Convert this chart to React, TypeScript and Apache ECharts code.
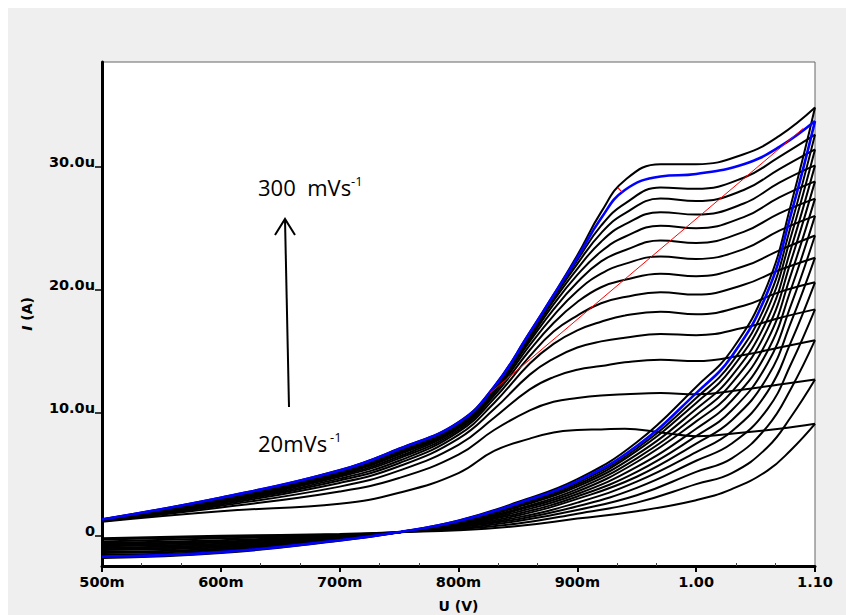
import { useEffect, useRef } from "react";
import * as echarts from "echarts";

// Scan rates (mV/s) of the recorded voltammograms
const scanRates = [20, 40, 60, 80, 100, 120, 140, 160, 180, 200, 220, 240, 260, 280, 300];
// Rate drawn in blue
const highlightedRate = 280;

// Potentials (V) for the anodic (forward) sweep
const forwardPotential = [0.5, 0.6, 0.7, 0.75, 0.8, 0.83, 0.86, 0.88, 0.9, 0.92, 0.94, 0.97, 1.0, 1.04, 1.07, 1.1];
// Currents (µA) on the forward sweep, one row per scan rate
const forwardCurrent = [
  [1.15, 2.0, 2.6, 3.5, 5.1, 6.9, 7.9, 8.4, 8.6, 8.65, 8.7, 8.4, 8.1, 8.4, 8.7, 9.1],
  [1.18, 2.3, 3.6, 4.7, 6.6, 8.6, 10.2, 10.9, 11.2, 11.4, 11.5, 11.6, 11.5, 11.9, 12.3, 12.7],
  [1.2, 2.45, 4.0, 5.3, 7.4, 9.6, 11.9, 12.9, 13.5, 13.8, 14.1, 14.3, 14.2, 14.7, 15.3, 15.9],
  [1.22, 2.55, 4.3, 5.65, 7.9, 10.3, 13.1, 14.4, 15.3, 15.8, 16.1, 16.4, 16.3, 16.9, 17.7, 18.4],
  [1.24, 2.65, 4.5, 5.9, 8.2, 10.8, 14.0, 15.6, 16.7, 17.4, 17.9, 18.2, 18.0, 18.7, 19.8, 20.6],
  [1.25, 2.72, 4.65, 6.1, 8.45, 11.15, 14.6, 16.6, 17.9, 18.9, 19.4, 19.8, 19.6, 20.4, 21.6, 22.6],
  [1.26, 2.78, 4.8, 6.3, 8.6, 11.4, 15.1, 17.3, 19.0, 20.2, 20.8, 21.3, 21.1, 21.9, 23.2, 24.4],
  [1.27, 2.84, 4.9, 6.45, 8.75, 11.6, 15.5, 17.9, 19.9, 21.3, 22.1, 22.7, 22.5, 23.3, 24.8, 26.0],
  [1.28, 2.9, 5.0, 6.6, 8.85, 11.75, 15.8, 18.4, 20.6, 22.3, 23.2, 24.0, 23.8, 24.7, 26.2, 27.4],
  [1.29, 2.95, 5.05, 6.7, 8.95, 11.85, 16.0, 18.8, 21.2, 23.1, 24.3, 25.2, 25.0, 25.9, 27.5, 28.8],
  [1.3, 3.0, 5.1, 6.8, 9.05, 11.95, 16.15, 19.1, 21.7, 23.9, 25.3, 26.3, 26.1, 27.0, 28.7, 30.1],
  [1.31, 3.03, 5.15, 6.9, 9.1, 12.0, 16.3, 19.3, 22.1, 24.6, 26.2, 27.4, 27.2, 28.1, 29.8, 31.4],
  [1.32, 3.06, 5.2, 7.0, 9.15, 12.05, 16.4, 19.45, 22.4, 25.2, 27.0, 28.3, 28.2, 29.1, 30.8, 32.6],
  [1.33, 3.1, 5.3, 7.05, 9.2, 12.1, 16.5, 19.55, 22.6, 25.8, 28.1, 29.2, 29.4, 30.2, 31.6, 33.7],
  [1.35, 3.12, 5.35, 7.1, 9.25, 12.15, 16.55, 19.6, 22.8, 26.3, 28.9, 30.2, 30.2, 31.0, 32.5, 34.8],
];

// Potentials (V) for the reverse sweep
const reversePotential = [1.1, 1.08, 1.06, 1.03, 1.0, 0.95, 0.9, 0.85, 0.8, 0.75, 0.7, 0.6, 0.5];
// Currents (µA) on the reverse sweep, one row per scan rate
const reverseCurrent = [
  [9.1, 7.0, 5.3, 3.8, 2.9, 2.0, 1.4, 0.8, 0.45, 0.3, 0.15, 0.0, -0.2],
  [12.7, 9.7, 7.2, 5.1, 4.2, 2.7, 1.8, 1.0, 0.55, 0.3, 0.1, -0.1, -0.3],
  [15.9, 12.0, 8.9, 6.3, 5.2, 3.3, 2.1, 1.2, 0.6, 0.3, 0.05, -0.2, -0.45],
  [18.4, 14.0, 10.3, 7.5, 6.1, 3.9, 2.4, 1.35, 0.7, 0.3, 0.0, -0.35, -0.55],
  [20.6, 15.8, 11.7, 8.5, 6.8, 4.4, 2.7, 1.5, 0.75, 0.3, -0.05, -0.45, -0.65],
  [22.6, 17.4, 12.9, 9.4, 7.5, 4.8, 3.0, 1.65, 0.8, 0.3, -0.1, -0.55, -0.75],
  [24.4, 18.8, 14.0, 10.2, 8.1, 5.2, 3.2, 1.8, 0.85, 0.3, -0.15, -0.65, -0.85],
  [26.0, 20.1, 15.0, 11.0, 8.7, 5.6, 3.4, 1.95, 0.9, 0.3, -0.2, -0.75, -0.95],
  [27.4, 21.3, 15.9, 11.7, 9.3, 6.0, 3.6, 2.1, 0.95, 0.3, -0.22, -0.85, -1.05],
  [28.8, 22.4, 16.8, 12.4, 9.8, 6.3, 3.8, 2.2, 1.0, 0.3, -0.25, -0.95, -1.15],
  [30.1, 23.4, 17.6, 13.0, 10.3, 6.6, 4.0, 2.35, 1.05, 0.3, -0.28, -1.05, -1.3],
  [31.4, 24.4, 18.4, 13.6, 10.8, 6.9, 4.15, 2.45, 1.1, 0.3, -0.3, -1.15, -1.4],
  [32.6, 25.3, 19.1, 14.1, 11.2, 7.1, 4.3, 2.55, 1.15, 0.3, -0.33, -1.25, -1.55],
  [33.7, 26.2, 19.8, 14.6, 11.6, 7.3, 4.45, 2.65, 1.2, 0.3, -0.36, -1.32, -1.7],
  [34.8, 27.0, 20.4, 15.1, 12.1, 7.6, 4.6, 2.75, 1.25, 0.3, -0.4, -1.4, -1.8],
];

// Straight red line through the peak region (V, µA)
const fitLinePotential = [0.8266, 1.09];
const fitLineCurrent = [11.6, 33.1];
// Marker "1" on the top voltammogram (V, µA)
const markerLabel = "1";
const markerPotential = [0.9341, 0.9378];
const markerCurrent = [28.3, 27.9];
const markerLabelPoint = [0.9348, 28.8];

// Current axis ticks (µA) and potential axis range (V)
const currentTicks = [0, 10, 20, 30];
const currentRange = [-2.45, 38.5];
const potentialRange = [0.5, 1.1];
const potentialStep = 0.1;

const labelFont = "DejaVu Sans";
const noteFont = "Open Sans";

export default function App() {
  const ref = useRef<HTMLDivElement>(null);

  useEffect(() => {
    // keep the page exactly as tall as the window
    document.body.style.margin = "8px 0 0 8px";
    document.body.style.overflow = "hidden";
    const chart = echarts.init(ref.current!, null, { renderer: "svg" });

    const series: any[] = [];
    const blueSeries: any[] = [];
    scanRates.forEach((rate, i) => {
      const isBlue = rate === highlightedRate;
      const lineStyle = { color: isBlue ? "#0000ff" : "#000000", width: isBlue ? 2.6 : 2 };
      const common = {
        type: "line",
        smooth: 0.45,
        showSymbol: false,
        symbol: "none",
        silent: true,
        lineStyle,
        z: isBlue ? 3 : 2,
      };
      const forward = {
        ...common,
        name: `${rate} mV/s forward`,
        data: forwardPotential.map((u, k) => [u, forwardCurrent[i][k]]),
      };
      const reverse = {
        ...common,
        name: `${rate} mV/s reverse`,
        data: reversePotential.map((u, k) => [u, reverseCurrent[i][k]]),
      };
      if (isBlue) blueSeries.push(forward, reverse);
      else series.push(forward, reverse);
    });
    series.push(...blueSeries);

    series.push({
      type: "line",
      name: "fit",
      data: fitLinePotential.map((u, k) => [u, fitLineCurrent[k]]),
      showSymbol: false,
      symbol: "none",
      silent: true,
      lineStyle: { color: "#ff0000", width: 1 },
      z: 4,
    });
    series.push({
      type: "line",
      name: "marker",
      data: markerPotential.map((u, k) => [u, markerCurrent[k]]),
      showSymbol: false,
      symbol: "none",
      silent: true,
      lineStyle: { color: "#ff0000", width: 1.2 },
      z: 4,
    });
    series.push({
      type: "scatter",
      name: "marker label",
      data: [markerLabelPoint],
      symbolSize: 1,
      itemStyle: { opacity: 0 },
      silent: true,
      label: {
        show: true,
        position: "inside",
        formatter: markerLabel,
        color: "#000",
        fontFamily: noteFont,
        fontSize: 15,
      },
      z: 5,
    });

    const potentialLabel = (v: number) =>
      v < 0.95 ? `${Math.round(v * 1000)}m` : v.toFixed(2);
    const currentLabel = (v: number) => (v === 0 ? "0" : `${v.toFixed(1)}u`);

    const option: any = {
      animation: false,
      backgroundColor: "#efefef",
      grid: {
        left: 94,
        top: 54,
        right: 31,
        bottom: 49,
        outerBoundsMode: "none",
        containLabel: false,
        show: true,
        backgroundColor: "#ffffff",
        borderColor: "#666666",
        borderWidth: 1,
      },
      xAxis: {
        type: "value",
        min: potentialRange[0],
        max: potentialRange[1],
        interval: potentialStep,
        name: "U (V)",
        nameLocation: "middle",
        nameGap: 33,
        nameTextStyle: { color: "#000", fontFamily: labelFont, fontWeight: "bold", fontSize: 14 },
        axisLine: { show: true, onZero: false, lineStyle: { color: "#000", width: 3 } },
        axisTick: { show: true, length: 6, lineStyle: { color: "#000", width: 2 } },
        minorTick: { show: true, splitNumber: 3, length: -3, lineStyle: { color: "#444", width: 1 } },
        splitLine: { show: false },
        axisLabel: {
          formatter: potentialLabel,
          color: "#000",
          fontFamily: labelFont,
          fontWeight: "bold",
          fontSize: 14.5,
          margin: 8,
        },
      },
      yAxis: {
        type: "value",
        min: currentRange[0],
        max: currentRange[1],
        name: "{i|I} (A)",
        nameLocation: "middle",
        nameRotate: 90,
        nameGap: 68,
        nameTextStyle: {
          color: "#000",
          fontFamily: labelFont,
          fontWeight: "bold",
          fontSize: 14,
          rich: {
            i: { fontStyle: "italic", fontWeight: "bold", fontFamily: labelFont, fontSize: 14, color: "#000" },
          },
        },
        axisLine: { show: true, onZero: false, lineStyle: { color: "#000", width: 3 } },
        axisTick: { show: true, length: 7, customValues: currentTicks, lineStyle: { color: "#000", width: 1.5 } },
        splitLine: { show: false },
        axisLabel: {
          customValues: currentTicks,
          formatter: currentLabel,
          color: "#000",
          fontFamily: labelFont,
          fontWeight: "bold",
          fontSize: 14.5,
          margin: 7,
          verticalAlign: "bottom",
          lineHeight: 10,
        },
      },
      graphic: [
        {
          type: "line",
          shape: { x1: 281, y1: 399, x2: 277, y2: 211 },
          style: { stroke: "#000", lineWidth: 2 },
          silent: true,
        },
        {
          type: "polyline",
          shape: { points: [[267, 227], [277, 211], [287, 227]] },
          style: { stroke: "#000", lineWidth: 2, fill: null },
          silent: true,
        },
        {
          type: "text",
          style: { x: 250, y: 179, text: "300  mVs", fill: "#000", fontFamily: noteFont, fontSize: 22, verticalAlign: "middle", align: "left" },
          silent: true,
        },
        {
          type: "text",
          style: { x: 343, y: 173, text: "-1", fill: "#000", fontFamily: noteFont, fontSize: 13, verticalAlign: "middle", align: "left" },
          silent: true,
        },
        {
          type: "text",
          style: { x: 250, y: 435, text: "20mVs", fill: "#000", fontFamily: noteFont, fontSize: 22, verticalAlign: "middle", align: "left" },
          silent: true,
        },
        {
          type: "text",
          style: { x: 322, y: 429, text: "-1", fill: "#000", fontFamily: noteFont, fontSize: 13, verticalAlign: "middle", align: "left" },
          silent: true,
        },
      ],
      series,
    };

    chart.setOption(option);
    return () => chart.dispose();
  }, []);

  return <div ref={ref} style={{ width: 838, height: 607 }} />;
}
